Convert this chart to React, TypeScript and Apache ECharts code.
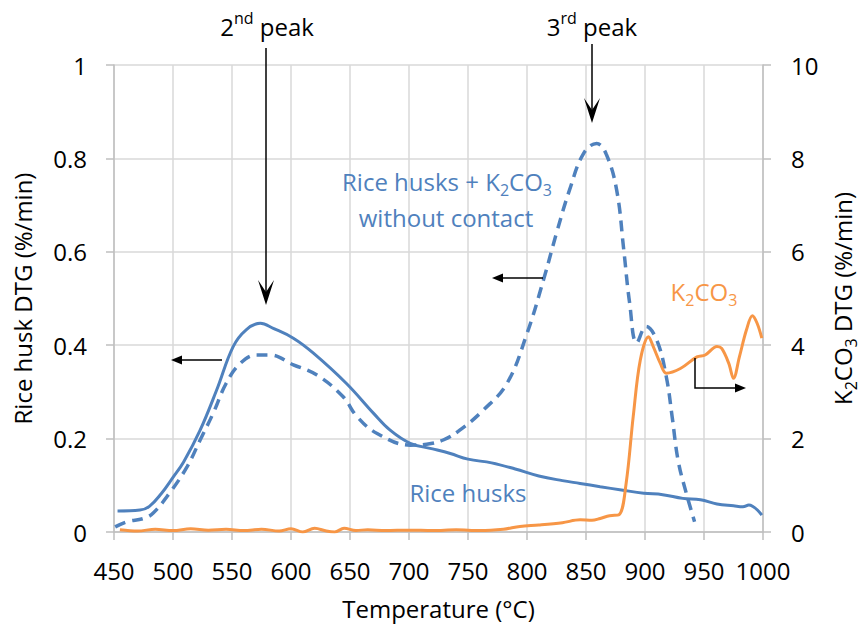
import React, { useEffect, useRef } from "react";
import * as echarts from "echarts";

const xTicks = { min: 450, max: 1000, interval: 50 };
const leftTicks = { min: 0, max: 1, interval: 0.2 };
const rightTicks = { min: 0, max: 10, interval: 2 };

const riceHusks: [number, number][] = [
  [453, 0.045], [472, 0.047], [480, 0.055], [490, 0.082], [500, 0.117], [509, 0.15], [523, 0.218],
  [537, 0.304], [551, 0.397], [562, 0.433], [574, 0.447], [585, 0.436], [602, 0.415],
  [619, 0.383], [647, 0.318], [670, 0.254], [684, 0.218], [701, 0.19], [720, 0.178],
  [735, 0.168], [750, 0.156], [770, 0.148], [790, 0.135], [810, 0.12], [830, 0.11],
  [845, 0.104], [862, 0.097], [880, 0.09], [899, 0.083], [915, 0.08], [932, 0.072],
  [947, 0.069], [961, 0.06], [975, 0.056], [983, 0.054], [988, 0.058], [999, 0.036],
];

const riceHusksK2CO3: [number, number][] = [
  [451, 0.011], [461, 0.022], [475, 0.029], [483, 0.04], [497, 0.083], [512, 0.14],
  [523, 0.197], [534, 0.254], [545, 0.318], [557, 0.361], [571, 0.379], [582, 0.379],
  [602, 0.358], [622, 0.336], [644, 0.29], [656, 0.247], [673, 0.211], [701, 0.186],
  [715, 0.188], [729, 0.197], [743, 0.218], [763, 0.261], [783, 0.318], [800, 0.425],
  [814, 0.54], [825, 0.64], [836, 0.732], [848, 0.811], [859, 0.832], [867, 0.81],
  [876, 0.732], [882, 0.604], [887, 0.49], [893, 0.405], [901, 0.44], [910, 0.411],
  [918, 0.333], [923, 0.247], [928, 0.154], [935, 0.083], [942, 0.022],
];

const k2co3: [number, number][] = [
  [455, 0.05], [470, 0.02], [485, 0.06], [500, 0.03], [515, 0.07], [530, 0.04],
  [545, 0.06], [560, 0.03], [575, 0.06], [590, 0.02], [600, 0.07], [610, 0.0],
  [620, 0.08], [630, 0.02], [637, 0.0], [645, 0.08], [655, 0.03], [665, 0.05], [680, 0.03],
  [700, 0.04], [720, 0.03], [740, 0.05], [760, 0.03], [780, 0.06], [794, 0.12],
  [810, 0.15], [830, 0.2], [845, 0.26], [855, 0.25], [862, 0.29], [870, 0.35],
  [878, 0.37], [884, 1.04], [890, 2.47], [896, 3.68], [903, 4.18], [907, 3.97],
  [913, 3.61], [918, 3.4], [930, 3.5], [944, 3.75], [951, 3.79], [961, 3.97],
  [965, 3.93], [971, 3.61], [975, 3.29], [980, 3.75], [986, 4.33], [991, 4.63],
  [995, 4.47], [999, 4.15],
];

const BLUE = "#4f81bd";
const ORANGE = "#f79646";
const FONT = "Open Sans";
const FS = 24;

export default function App() {
  const ref = useRef<HTMLDivElement>(null);
  useEffect(() => {
    document.body.style.margin = "0";
    const chart = echarts.init(ref.current!, null, { renderer: "svg" });
    const mkRich = (color: string) => ({
      n: { fontSize: FS, fontFamily: FONT, color },
      s: { fontSize: 16, fontFamily: FONT, color, padding: [18, 0, 0, 0] },
      u: { fontSize: 16, fontFamily: FONT, color, padding: [0, 0, 16, 0] },
    });
    const txt = (x: number, y: number, text: string, color: string) => ({
      type: "text",
      x,
      y,
      style: { text, rich: mkRich(color), align: "center", verticalAlign: "middle", fill: color },
      z: 100,
    });
    const lineEl = (x1: number, y1: number, x2: number, y2: number) => ({
      type: "line",
      shape: { x1, y1, x2, y2 },
      style: { stroke: "#000", lineWidth: 1.5 },
      z: 100,
    });
    const poly = (points: number[][]) => ({
      type: "polygon",
      shape: { points },
      style: { fill: "#000" },
      z: 100,
    });
    const downArrow = (x: number, y1: number, tip: number) => [
      lineEl(x, y1, x, tip - 12),
      poly([[x - 8, tip - 25], [x, tip], [x + 8, tip - 25], [x, tip - 13]]),
    ];
    const leftArrow = (x1: number, tip: number, y: number) => [
      lineEl(x1, y, tip + 8, y),
      poly([[tip, y], [tip + 11, y - 4.5], [tip + 11, y + 4.5]]),
    ];
    const axisCommon = {
      axisLine: { show: true, lineStyle: { color: "#bfbfbf", width: 1.5 } },
      axisTick: { show: true, length: 8, lineStyle: { color: "#bfbfbf", width: 1.5 } },
    };
    chart.setOption({
      animation: false,
      grid: { left: 114, right: 101, top: 65, bottom: 95, outerBoundsMode: "none", containLabel: false },
      textStyle: { fontFamily: FONT },
      xAxis: {
        type: "value",
        min: xTicks.min,
        max: xTicks.max,
        interval: xTicks.interval,
        name: "Temperature (°C)",
        nameLocation: "middle",
        nameGap: 64,
        nameTextStyle: { fontSize: FS, color: "#000", fontFamily: FONT },
        ...axisCommon,
        axisLabel: { fontSize: FS, color: "#000", margin: 26, fontFamily: FONT, formatter: (v: number) => String(v) },
        splitLine: { show: true, lineStyle: { color: "#d9d9d9", width: 1.5 } },
      },
      yAxis: [
        {
          type: "value",
          min: leftTicks.min,
          max: leftTicks.max,
          interval: leftTicks.interval,
          position: "left",
          name: "Rice husk DTG (%/min)",
          nameLocation: "middle",
          nameGap: 80,
          nameTextStyle: { fontSize: FS, color: "#000", fontFamily: FONT },
          ...axisCommon,
          axisLabel: { fontSize: FS, color: "#000", margin: 27, fontFamily: FONT, formatter: (v: number) => String(Math.round(v * 10) / 10) },
          splitLine: { show: true, lineStyle: { color: "#d9d9d9", width: 1.5 } },
        },
        {
          type: "value",
          min: rightTicks.min,
          max: rightTicks.max,
          interval: rightTicks.interval,
          position: "right",
          name: "{n|K}{s|2}{n|CO}{s|3}{n| DTG (%/min)}",
          nameLocation: "middle",
          nameGap: 62,
          nameTextStyle: { fontSize: FS, color: "#000", fontFamily: FONT, rich: mkRich("#000") },
          ...axisCommon,
          axisLabel: { fontSize: FS, color: "#000", margin: 28, fontFamily: FONT },
          splitLine: { show: false },
        },
      ],
      series: [
        {
          name: "Rice husks",
          type: "line",
          yAxisIndex: 0,
          data: riceHusks,
          smooth: 0.4,
          symbol: "none",
          lineStyle: { color: BLUE, width: 3 },
        },
        {
          name: "Rice husks + K2CO3 without contact",
          type: "line",
          yAxisIndex: 0,
          data: riceHusksK2CO3,
          smooth: 0.4,
          symbol: "none",
          lineStyle: { color: BLUE, width: 3.5, type: [11, 7] },
        },
        {
          name: "K2CO3",
          type: "line",
          yAxisIndex: 1,
          data: k2co3,
          smooth: 0.35,
          symbol: "none",
          lineStyle: { color: ORANGE, width: 3 },
        },
      ],
      graphic: [
        txt(267, 26, "{n|2}{u|nd}{n| peak}", "#000"),
        txt(592, 26, "{n|3}{u|rd}{n| peak}", "#000"),
        ...downArrow(266, 48, 305),
        ...downArrow(592, 44, 123),
        ...leftArrow(222, 171, 360),
        ...leftArrow(543, 492, 278),
        {
          type: "polyline",
          shape: { points: [[695, 358], [695, 388], [737, 388]] },
          style: { stroke: "#000", lineWidth: 1.5, fill: null },
          z: 100,
        },
        poly([[746, 388], [735, 383.5], [735, 392.5]]),
        txt(447, 181, "{n|Rice husks + K}{s|2}{n|CO}{s|3}", BLUE),
        txt(446, 217, "{n|without contact}", BLUE),
        txt(468, 492, "{n|Rice husks}", BLUE),
        txt(704, 291, "{n|K}{s|2}{n|CO}{s|3}", ORANGE),
      ],
    });
    return () => chart.dispose();
  }, []);
  return <div ref={ref} style={{ width: 864, height: 627 }} />;
}
